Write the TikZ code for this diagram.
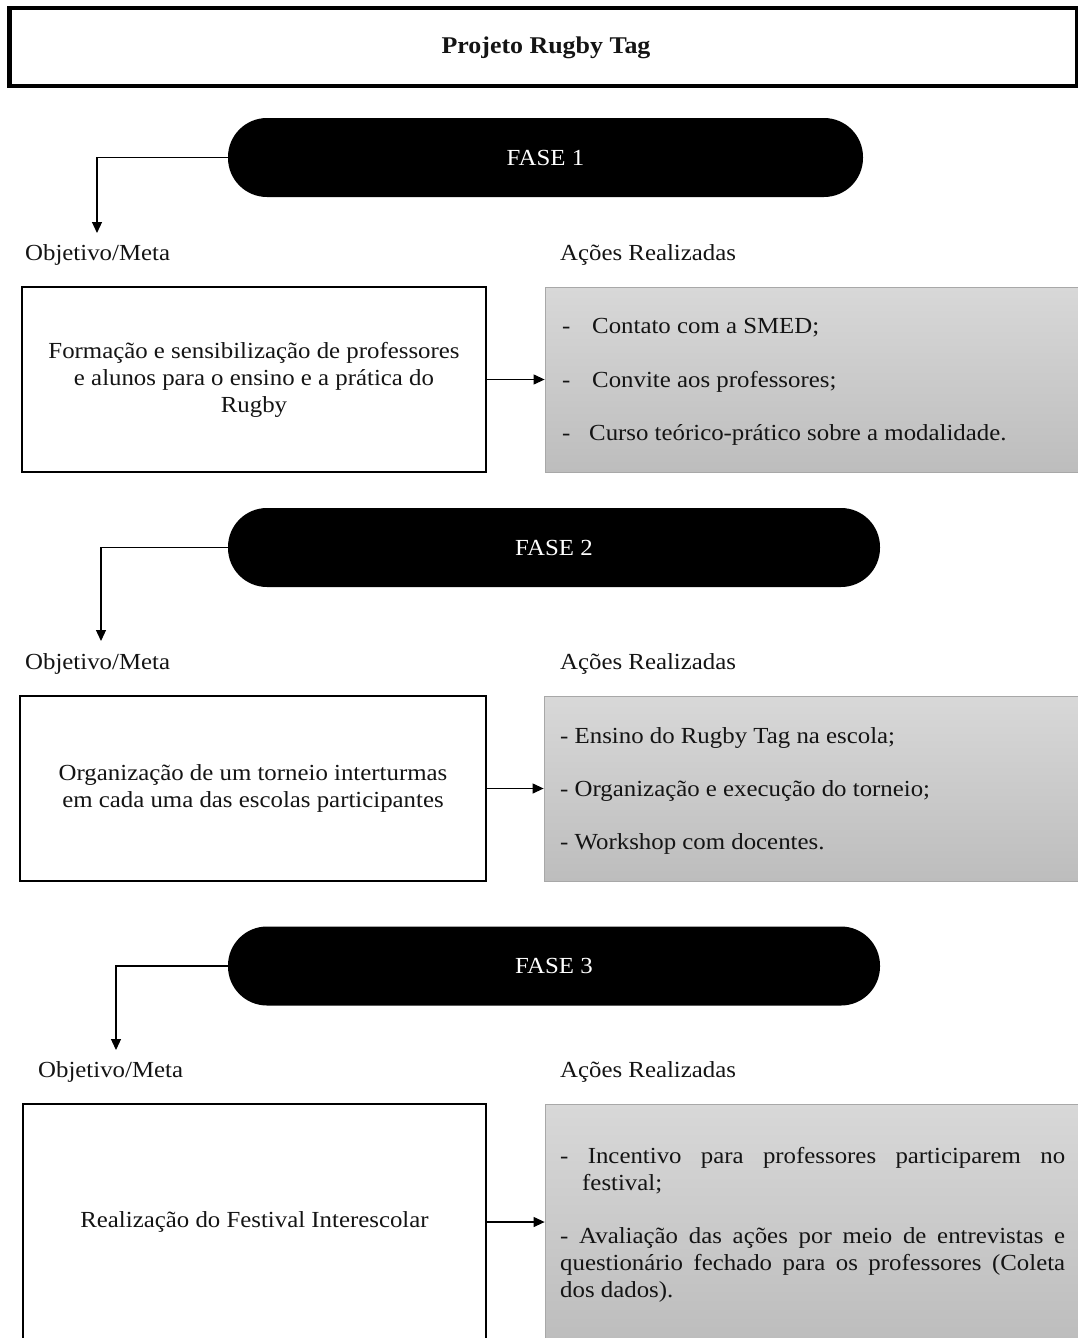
\documentclass[tikz,border=0pt]{standalone}
\usepackage{fontspec}
\setmainfont[FakeStretch=1.08]{Liberation Serif}
\usetikzlibrary{arrows.meta}
\definecolor{graytop}{HTML}{D8D8D8}
\definecolor{graybot}{HTML}{BDBDBD}
\definecolor{grayedge}{HTML}{A8A8A8}
\definecolor{ink}{HTML}{141414}
\begin{document}
\begin{tikzpicture}[x=1pt,y=-1pt,
  body/.style={font=\fontsize{23}{27}\selectfont, text=ink},
  label/.style={body, inner sep=0, anchor=west, text height=19pt, text depth=5pt},
  pill/.style={fill=black, text=white, rounded corners=39pt, inner sep=0,
    minimum height=79pt, font=\fontsize{23}{27}\selectfont},
  goalbox/.style={body, draw=black, line width=1.6pt, align=center, inner sep=0},
  actbox/.style={draw=grayedge, line width=0.8pt, top color=graytop, bottom color=graybot, inner sep=0},
  titlebox/.style={draw=black, line width=4.5pt, inner sep=0, fill=white},
  conn/.style={draw=black, line width=1.2pt, -{Triangle[length=11pt,width=10pt]}}
]
\useasboundingbox (0,0) rectangle (1077,1338);
\fill[white] (0,0) rectangle (1077,1338);

% title
\node[titlebox, minimum width=1068pt, minimum height=78pt] (title) at (543.5,47) {};
\node[body, font=\fontsize{24}{27}\selectfont\bfseries, inner sep=0] (titletext) at (546,48) {Projeto Rugby Tag};

% ---------- FASE 1
\node[pill, minimum width=635pt] (f1) at (545.5,157.5) {FASE 1};
\coordinate (t1) at (97,233);
\draw[conn] (f1.west) -| (t1);
\node[label] (o1) at (25,253) {Objetivo/Meta};
\node[label] (r1) at (560,253) {Ações Realizadas};
\node[goalbox, minimum width=464pt, minimum height=185pt] (g1) at (254,379.5)
  {Formação e sensibilização de professores\\e alunos para o ensino e a prática do\\Rugby};
\node[actbox, minimum width=535pt, minimum height=185pt] (a1) at (812.5,379.5) {};
\draw[conn] (g1.east) -- (a1.west);
\node[label] (a11) at (562,326) {\makebox[30pt][l]{-}Contato com a SMED;};
\node[label] (a12) at (562,380) {\makebox[30pt][l]{-}Convite aos professores;};
\node[label] (a13) at (562,433) {\makebox[27pt][l]{-}Curso teórico-prático sobre a modalidade.};

% ---------- FASE 2
\node[pill, minimum width=652pt] (f2) at (554,547.5) {FASE 2};
\coordinate (t2) at (101,641);
\draw[conn] (f2.west) -| (t2);
\node[label] (o2) at (25,662) {Objetivo/Meta};
\node[label] (r2) at (560,662) {Ações Realizadas};
\node[goalbox, minimum width=466pt, minimum height=185pt] (g2) at (253,788.5)
  {Organização de um torneio interturmas\\em cada uma das escolas participantes};
\node[actbox, minimum width=536pt, minimum height=185pt] (a2) at (812,788.5) {};
\draw[conn] (g2.east) -- (a2.west);
\node[label] (a21) at (560,736) {- Ensino do Rugby Tag na escola;};
\node[label] (a22) at (560,789) {- Organização e execução do torneio;};
\node[label] (a23) at (560,842) {- Workshop com docentes.};

% ---------- FASE 3
\node[pill, minimum width=652pt] (f3) at (554,966) {FASE 3};
\coordinate (t3) at (116,1050);
\draw[conn] (f3.west) -| (t3);
\node[label] (o3) at (38,1070) {Objetivo/Meta};
\node[label] (r3) at (560,1070) {Ações Realizadas};
\node[goalbox, minimum width=463pt, minimum height=236pt] (g3) at (254.5,1222)
  {Realização do Festival Interescolar};
\node[actbox, minimum width=535pt, minimum height=236pt] (a3) at (812.5,1222) {};
\draw[conn] (g3.east) -- (a3.west);
\node[label] (a31) at (560,1156) {\makebox[505pt][s]{- Incentivo para professores participarem no}};
\node[label] (a32) at (582,1183) {festival;};
\node[label] (a33) at (560,1236) {\makebox[505pt][s]{- Avaliação das ações por meio de entrevistas e}};
\node[label] (a34) at (560,1263) {\makebox[505pt][s]{questionário fechado para os professores (Coleta}};
\node[label] (a35) at (560,1290) {dos dados).};
\end{tikzpicture}
\end{document}
